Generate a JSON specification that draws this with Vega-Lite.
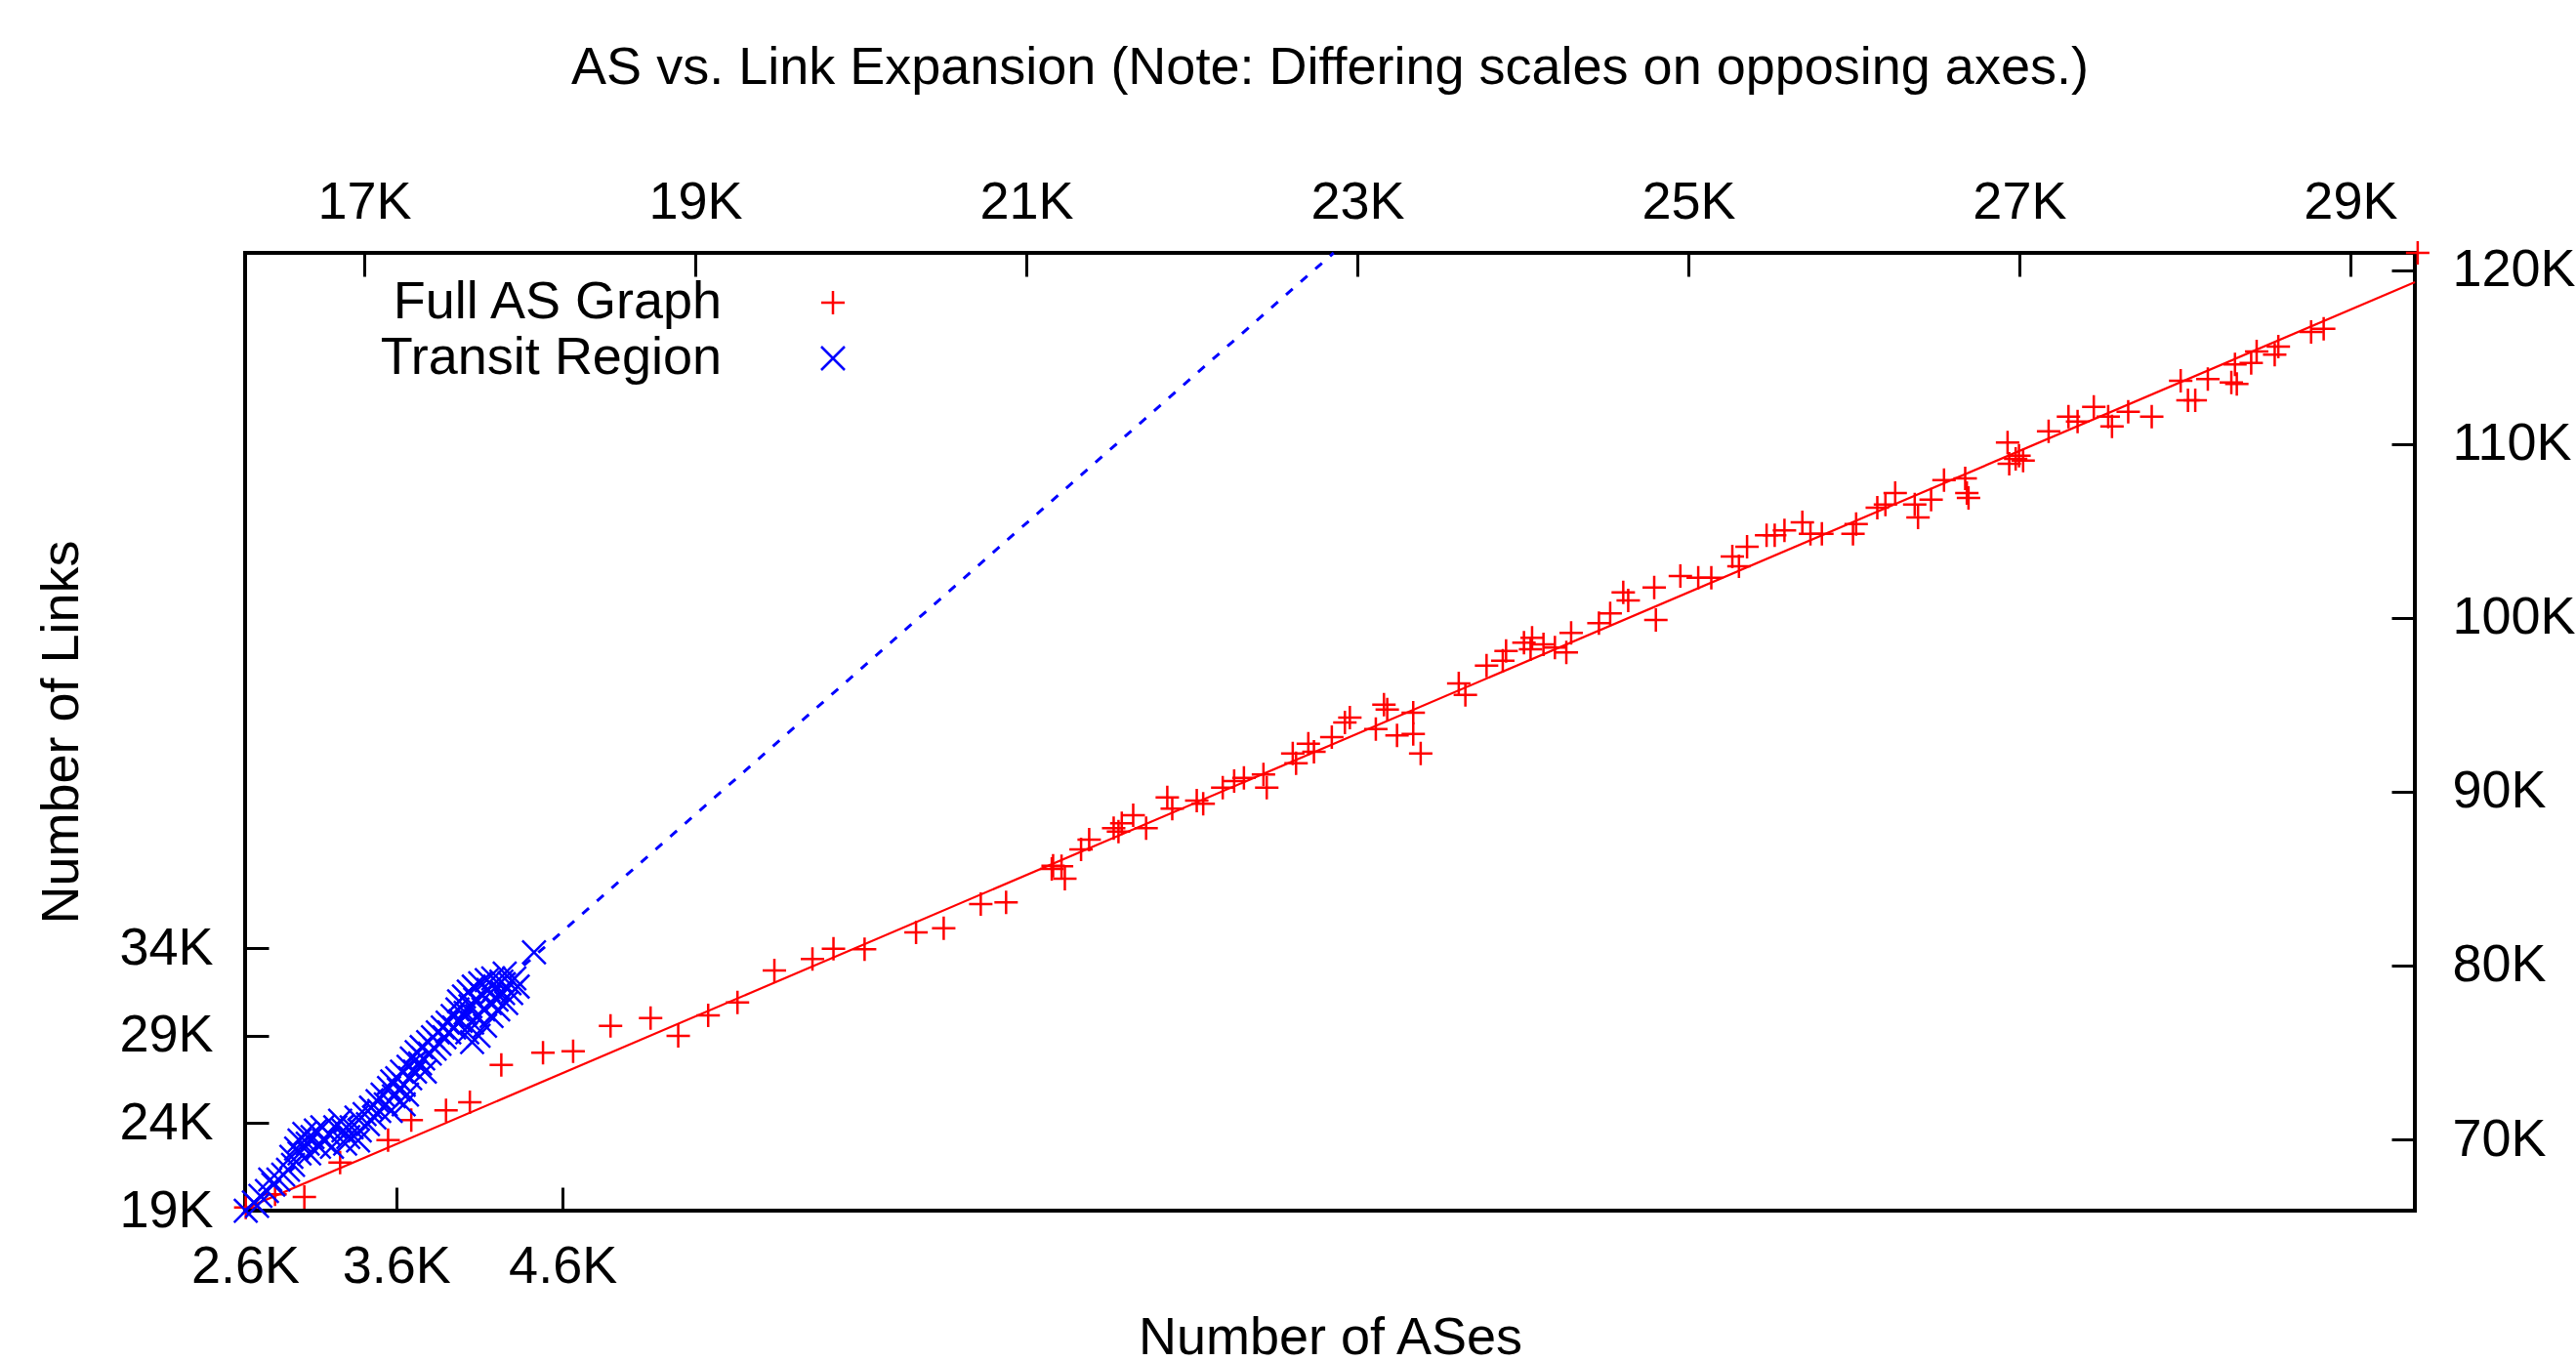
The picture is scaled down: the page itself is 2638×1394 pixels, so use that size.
{
  "$schema": "https://vega.github.io/schema/vega-lite/v6.json",
  "autosize": "none",
  "width": 2222,
  "height": 981,
  "padding": {"left": 251, "top": 259, "right": 165, "bottom": 154},
  "background": "white",
  "title": {"text": "AS vs. Link Expansion (Note: Differing scales on opposing axes.)", "fontSize": 54, "font": "Liberation Sans", "fontWeight": "normal", "color": "black", "anchor": "middle", "baseline": "alphabetic", "offset": 40},
  "config": {
    "font": "Liberation Sans",
    "view": {"stroke": "black", "strokeWidth": 4},
    "axis": {"domain": false, "grid": false, "ticks": true, "tickColor": "black", "tickWidth": 3, "tickSize": -24, "labelFontSize": 54, "labelFont": "Liberation Sans", "labelColor": "black", "titleFontSize": 54, "titleFont": "Liberation Sans", "titleFontWeight": "normal", "titleColor": "black", "labelFlush": false, "labelOverlap": false},
    "legend": {"orient": "none", "legendX": 575, "legendY": 24, "labelFontSize": 54, "labelFont": "Liberation Sans", "labelColor": "black", "labelAlign": "right", "labelOffset": -141, "symbolSize": 576, "symbolStrokeWidth": 2.5, "rowPadding": 3, "padding": 0, "labelLimit": 0}
  },
  "datasets": {
    "red": [
      {"ases":16284,"links":66085},{"ases":16461,"links":66838},{"ases":16638,"links":66686},{"ases":16854,"links":68669},{"ases":17144,"links":69961},{"ases":17284,"links":71107},{"ases":17494,"links":71669},{"ases":17638,"links":72135},{"ases":17828,"links":74286},{"ases":18080,"links":74983},{"ases":18262,"links":75073},{"ases":18488,"links":76533},{"ases":18730,"links":76982},{"ases":18897,"links":75954},{"ases":19078,"links":77134},{"ases":19255,"links":77881},{"ases":19478,"links":79718},{"ases":19708,"links":80375},{"ases":19835,"links":80971},{"ases":20023,"links":80937},{"ases":20334,"links":81908},{"ases":20501,"links":82150},{"ases":20725,"links":83537},{"ases":20878,"links":83633},{"ases":21154,"links":85560},{"ases":21162,"links":85745},{"ases":21213,"links":85711},{"ases":21233,"links":84998},{"ases":21331,"links":86683},{"ases":21380,"links":87245},{"ases":21528,"links":87902},{"ases":21577,"links":88183},{"ases":21557,"links":87711},{"ases":21646,"links":88649},{"ases":21724,"links":87902},{"ases":21852,"links":89677},{"ases":21882,"links":89025},{"ases":22030,"links":89491},{"ases":22069,"links":89306},{"ases":22187,"links":90239},{"ases":22256,"links":90615},{"ases":22315,"links":90800},{"ases":22433,"links":90991},{"ases":22453,"links":90239},{"ases":22610,"links":92205},{"ases":22630,"links":91643},{"ases":22704,"links":92766},{"ases":22738,"links":92300},{"ases":22846,"links":93142},{"ases":22955,"links":94266},{"ases":22925,"links":93985},{"ases":23112,"links":93609},{"ases":23161,"links":95013},{"ases":23181,"links":94732},{"ases":23240,"links":93238},{"ases":23338,"links":94547},{"ases":23338,"links":93328},{"ases":23383,"links":92205},{"ases":23613,"links":96232},{"ases":23653,"links":95575},{"ases":23781,"links":97260},{"ases":23879,"links":97541},{"ases":23899,"links":98102},{"ases":24007,"links":98574},{"ases":24047,"links":98198},{"ases":24056,"links":98855},{"ases":24125,"links":98479},{"ases":24194,"links":98300},{"ases":24263,"links":98012},{"ases":24292,"links":99136},{"ases":24460,"links":99697},{"ases":24528,"links":100259},{"ases":24607,"links":101473},{"ases":24637,"links":101006},{"ases":24794,"links":101753},{"ases":24804,"links":99883},{"ases":24952,"links":102411},{"ases":25060,"links":102315},{"ases":25139,"links":102315},{"ases":25266,"links":103534},{"ases":25306,"links":102972},{"ases":25355,"links":104096},{"ases":25473,"links":104753},{"ases":25522,"links":104753},{"ases":25581,"links":105034},{"ases":25689,"links":105500},{"ases":25738,"links":104843},{"ases":25807,"links":104843},{"ases":25995,"links":104843},{"ases":26014,"links":105404},{"ases":26142,"links":106342},{"ases":26191,"links":106528},{"ases":26250,"links":107185},{"ases":26368,"links":106528},{"ases":26388,"links":105781},{"ases":26467,"links":106808},{"ases":26545,"links":107932},{"ases":26673,"links":108028},{"ases":26683,"links":107185},{"ases":26693,"links":106904},{"ases":26929,"links":110089},{"ases":26939,"links":108870},{"ases":26978,"links":109151},{"ases":26998,"links":109336},{"ases":27023,"links":109055},{"ases":27177,"links":110741},{"ases":27297,"links":111583},{"ases":27352,"links":111302},{"ases":27450,"links":112145},{"ases":27537,"links":111583},{"ases":27560,"links":111021},{"ases":27658,"links":111864},{"ases":27800,"links":111583},{"ases":27975,"links":113644},{"ases":28019,"links":112521},{"ases":28063,"links":112521},{"ases":28139,"links":113740},{"ases":28281,"links":113549},{"ases":28303,"links":114583},{"ases":28314,"links":113459},{"ases":28401,"links":114672},{"ases":28434,"links":115330},{"ases":28565,"links":115610},{"ases":28543,"links":115144},{"ases":28763,"links":116453},{"ases":28839,"links":116638},{"ases":29407,"links":121003}
    ],
    "redfit": [{"ases":16280,"links":66012},{"ases":29390,"links":119318}],
    "blue": [
      {"ases":2696,"links":18997},{"ases":2745,"links":19465},{"ases":2784,"links":19839},{"ases":2823,"links":20120},{"ases":2862,"links":20494},{"ases":2892,"links":20775},{"ases":2921,"links":21056},{"ases":2950,"links":21337},{"ases":2980,"links":21617},{"ases":2970,"links":22085},{"ases":2999,"links":22553},{"ases":3019,"links":23021},{"ases":3048,"links":23396},{"ases":3068,"links":22834},{"ases":3097,"links":23209},{"ases":3117,"links":23583},{"ases":3136,"links":22647},{"ases":3166,"links":23021},{"ases":3195,"links":23396},{"ases":3214,"links":22647},{"ases":3234,"links":23770},{"ases":3263,"links":24145},{"ases":3283,"links":23583},{"ases":3312,"links":23209},{"ases":3332,"links":23770},{"ases":3361,"links":24332},{"ases":3381,"links":23583},{"ases":3410,"links":24519},{"ases":3430,"links":23957},{"ases":3449,"links":24893},{"ases":3469,"links":24332},{"ases":3488,"links":25268},{"ases":3498,"links":24706},{"ases":3518,"links":25642},{"ases":3537,"links":25081},{"ases":3557,"links":26017},{"ases":3576,"links":26391},{"ases":3586,"links":25549},{"ases":3606,"links":26578},{"ases":3616,"links":25923},{"ases":3635,"links":26953},{"ases":3645,"links":26204},{"ases":3665,"links":25642},{"ases":3674,"links":27233},{"ases":3684,"links":26578},{"ases":3694,"links":27701},{"ases":3713,"links":26953},{"ases":3723,"links":28076},{"ases":3743,"links":27421},{"ases":3753,"links":28357},{"ases":3762,"links":27701},{"ases":3772,"links":26953},{"ases":3792,"links":28637},{"ases":3802,"links":27982},{"ases":3821,"links":28918},{"ases":3831,"links":28263},{"ases":3850,"links":29199},{"ases":3860,"links":28544},{"ases":3880,"links":29480},{"ases":3890,"links":28918},{"ases":3909,"links":29761},{"ases":3919,"links":29199},{"ases":3939,"links":30135},{"ases":3948,"links":29480},{"ases":3968,"links":30509},{"ases":3978,"links":30977},{"ases":3987,"links":29854},{"ases":4007,"links":31258},{"ases":4017,"links":30322},{"ases":4027,"links":29199},{"ases":4036,"links":31539},{"ases":4046,"links":30697},{"ases":4056,"links":29761},{"ases":4066,"links":31820},{"ases":4075,"links":31071},{"ases":4085,"links":30135},{"ases":4095,"links":29012},{"ases":4105,"links":32007},{"ases":4115,"links":31352},{"ases":4124,"links":30509},{"ases":4134,"links":29573},{"ases":4144,"links":32194},{"ases":4154,"links":31633},{"ases":4164,"links":30884},{"ases":4173,"links":30135},{"ases":4183,"links":32288},{"ases":4193,"links":31726},{"ases":4203,"links":31071},{"ases":4213,"links":30509},{"ases":4232,"links":32101},{"ases":4242,"links":31445},{"ases":4252,"links":32569},{"ases":4261,"links":30884},{"ases":4281,"links":32007},{"ases":4291,"links":31445},{"ases":4310,"links":32288},{"ases":4330,"links":31820},{"ases":4428,"links":33785},{"ases":3019,"links":22273},{"ases":3077,"links":22273},{"ases":3156,"links":23770},{"ases":3293,"links":22834},{"ases":3371,"links":23021},{"ases":3567,"links":24706},{"ases":3645,"links":25081},{"ases":4056,"links":28637},{"ases":2843,"links":20775},{"ases":2764,"links":19278}
    ],
    "bluefit": [{"ases":2692,"links":19000},{"ases":9233,"links":73800}]
  },
  "layer": [
    {
      "layer": [
        {
          "data": {"name": "red"},
          "mark": {"type": "point", "filled": false, "strokeWidth": 2.5, "size": 576, "opacity": 1},
          "encoding": {
            "x": {"field": "ases", "type": "quantitative", "scale": {"domain": [16280, 29390], "zero": false, "nice": false}, "axis": {"orient": "top", "title": null, "values": [17000, 19000, 21000, 23000, 25000, 27000, 29000], "labelExpr": "format(datum.value/1000, 'd') + 'K'", "labelPadding": 49}},
            "y": {"field": "links", "type": "quantitative", "scale": {"domain": [65900, 121000], "zero": false, "nice": false}, "axis": {"orient": "right", "title": null, "values": [70000, 80000, 90000, 100000, 110000, 120000], "labelExpr": "format(datum.value/1000, 'd') + 'K'", "labelPadding": 62}},
            "color": {"datum": "Full AS Graph", "type": "nominal", "scale": {"domain": ["Full AS Graph", "Transit Region"], "range": ["#ff0000", "#0000ff"]}, "legend": {"title": null}},
            "shape": {"datum": "Full AS Graph", "type": "nominal", "scale": {"domain": ["Full AS Graph", "Transit Region"], "range": ["M-1,0L1,0M0,-1L0,1", "M-1,-1L1,1M-1,1L1,-1"]}, "legend": {"title": null}}
          }
        },
        {
          "data": {"name": "redfit"},
          "mark": {"type": "line", "color": "#ff0000", "strokeWidth": 2.2},
          "encoding": {
            "x": {"field": "ases", "type": "quantitative"},
            "y": {"field": "links", "type": "quantitative"}
          }
        }
      ]
    },
    {
      "layer": [
        {
          "data": {"name": "blue"},
          "mark": {"type": "point", "filled": false, "strokeWidth": 2.5, "size": 576, "opacity": 1},
          "encoding": {
            "x": {"field": "ases", "type": "quantitative", "scale": {"domain": [2692, 15730], "zero": false, "nice": false}, "axis": {"orient": "bottom", "title": "Number of ASes", "values": [2692, 3600, 4600], "labelExpr": "datum.value < 3000 ? '2.6K' : format(datum.value/1000, '.1f') + 'K'", "labelPadding": 54, "titlePadding": 19}},
            "y": {"field": "links", "type": "quantitative", "scale": {"domain": [19000, 73800], "zero": false, "nice": false}, "axis": {"orient": "left", "title": "Number of Links", "values": [19000, 24000, 29000, 34000], "labelExpr": "format(datum.value/1000, 'd') + 'K'", "labelPadding": 57, "titlePadding": 31}},
            "color": {"datum": "Transit Region", "type": "nominal", "legend": {"title": null}},
            "shape": {"datum": "Transit Region", "type": "nominal", "legend": {"title": null}}
          }
        },
        {
          "data": {"name": "bluefit"},
          "mark": {"type": "line", "color": "#0000ff", "strokeWidth": 3, "strokeDash": [9, 11]},
          "encoding": {
            "x": {"field": "ases", "type": "quantitative"},
            "y": {"field": "links", "type": "quantitative"}
          }
        }
      ]
    }
  ],
  "resolve": {"scale": {"x": "independent", "y": "independent"}}
}
